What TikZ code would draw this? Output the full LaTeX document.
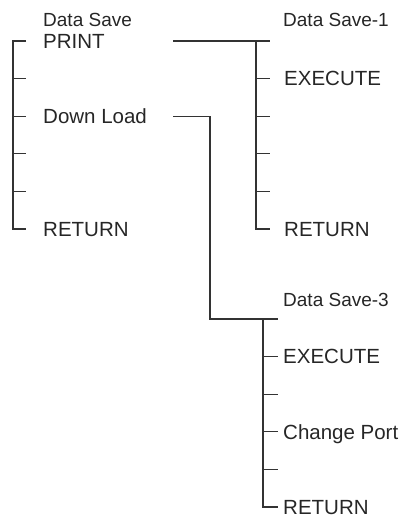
\documentclass[tikz,border=0pt]{standalone}
\usepackage{fontspec}
\setmainfont{Liberation Sans}
\usetikzlibrary{positioning}
\tikzset{
    menuitem/.style = {anchor=base west, inner sep=0pt, text=black!85, font=\fontsize{20.5}{24}\selectfont},
    menutitle/.style = {menuitem, font=\fontsize{19}{22}\selectfont},
    treeline/.style = {line width=1.2pt, draw=black!80},
}
\begin{document}
\begin{tikzpicture}[x=1pt,y=-1pt]
\useasboundingbox (0,0) rectangle (406,523);
%
% Data Save
\node[menutitle] at (43,26) (save) {Data Save};
\node[menuitem] at (43,48.3) (print) {PRINT};
\node[menuitem] at (43,123.5) (download) {Down Load};
\node[menuitem] at (43,236.3) (ret0) {RETURN};
% Data Save-1
\node[menutitle] at (283,26) (save1) {Data Save-1};
\node[menuitem] at (284,85.9) (exe1) {EXECUTE};
\node[menuitem] at (284,236.3) (ret1) {RETURN};
% Data Save-3
\node[menutitle] at (283,306) (save3) {Data Save-3};
\node[menuitem] at (283,363.9) (exe3) {EXECUTE};
\node[menuitem] at (283,439.1) (port3) {Change Port};
\node[menuitem] at (283,514.3) (ret3) {RETURN};
%
% spine and tick ends
\foreach \y [count=\i] in {41,78.6,116.2,153.8,191.4,229} {
  \coordinate (a\i) at (13,\y);  \coordinate (ae\i) at (26,\y);
  \coordinate (b\i) at (256,\y); \coordinate (be\i) at (270,\y);
}
\foreach \y [count=\i] in {319,356.6,394.2,431.8,469.4,507} {
  \coordinate (c\i) at (263,\y); \coordinate (ce\i) at (278,\y);
}
\coordinate (printout) at (173,41);
\coordinate (dlout) at (173,116.2);
\coordinate (dlbend) at (210,116.2);
\coordinate (dlfoot) at (210,319);
%
\draw[treeline] (ae1) -- (a1) -- (a6) -- (ae6);
\foreach \i in {2,...,5} \draw[treeline] (a\i) -- (ae\i);
\draw[treeline] (printout) -- (be1);
\draw[treeline] (b1) -- (b6) -- (be6);
\foreach \i in {2,...,5} \draw[treeline] (b\i) -- (be\i);
\draw[treeline] (dlout) -- (dlbend) -- (dlfoot) -- (ce1);
\draw[treeline] (c1) -- (c6) -- (ce6);
\foreach \i in {2,...,5} \draw[treeline] (c\i) -- (ce\i);
\end{tikzpicture}
\end{document}
